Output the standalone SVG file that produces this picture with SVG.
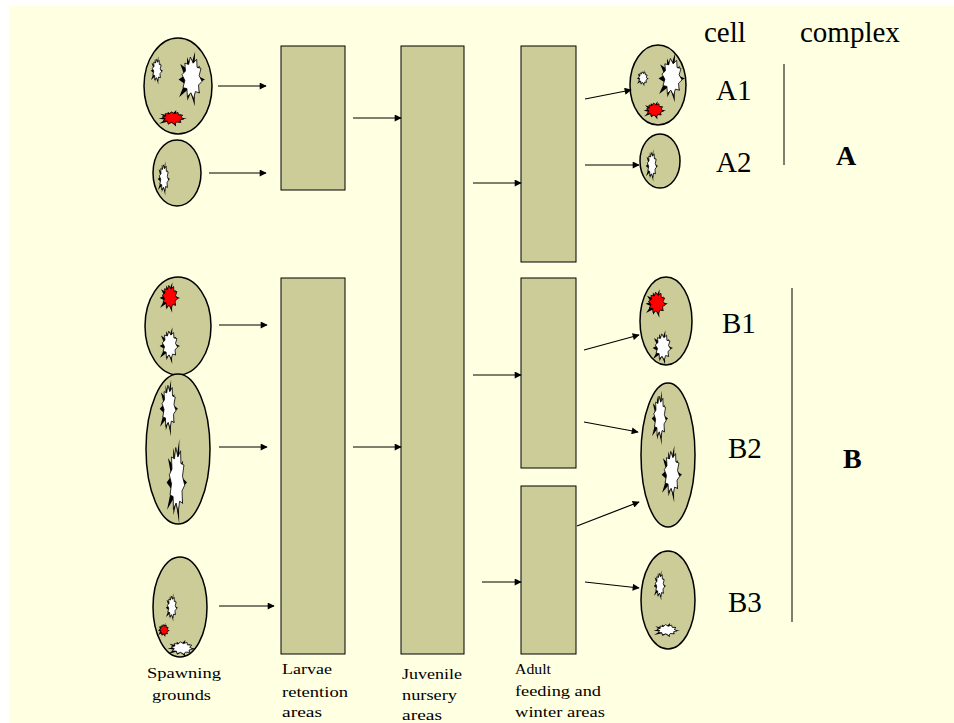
<svg xmlns="http://www.w3.org/2000/svg" xmlns:xlink="http://www.w3.org/1999/xlink" width="954" height="723" viewBox="0 0 954 723">
  <style>
    .area { fill: #CCCC99; stroke: #000; stroke-width: 1; }
    .cell { fill: #CCCC99; stroke: #000; stroke-width: 1.5; }
    .link { stroke: #000; stroke-width: 1.2; fill: none; marker-end: url(#arrow); }
    .bar { stroke: #000; stroke-width: 1; }
    .lbl { font-family: "Liberation Serif", "Times New Roman", serif; fill: #000; }
    .small { font-size: 15.5px; }
    .big { font-size: 29px; }
    .bold { font-size: 28px; font-weight: bold; }
    .spk { fill: #000; }
    .core { fill: #fff; stroke: #000; stroke-width: 0.8; vector-effect: non-scaling-stroke; }
    .coreR { fill: #f00; stroke: #000; stroke-width: 0.8; vector-effect: non-scaling-stroke; }
  </style>
  <defs>
    <marker id="arrow" viewBox="0 0 10 10" refX="9" refY="5" markerWidth="10" markerHeight="7" markerUnits="userSpaceOnUse" orient="auto">
      <path d="M0,0 L10,5 L0,10 z" fill="#000"/>
    </marker>
    <!-- spot: black spiky rim behind a jagged white (or red) core -->
    <g id="spot">
      <polygon class="spk" transform="translate(-0.1,0.06) scale(1.1)" points="1,0 0.43,0.14 0.65,0.47 0.26,0.36 0.29,0.9 0,0.45 -0.23,0.71 -0.26,0.36 -0.81,0.59 -0.43,0.14 -0.85,0 -0.43,-0.14 -0.73,-0.53 -0.26,-0.36 -0.25,-0.76 0,-0.45 0.31,-0.95 0.26,-0.36 0.65,-0.47 0.43,-0.14"/>
      <polygon class="core" transform="scale(1.12)" points="0.69,0.11 0.45,0.23 0.49,0.49 0.23,0.45 0.11,0.69 -0.08,0.49 -0.32,0.62 -0.35,0.35 -0.62,0.32 -0.49,0.08 -0.69,-0.11 -0.45,-0.23 -0.49,-0.49 -0.23,-0.45 -0.11,-0.69 0.08,-0.49 0.32,-0.62 0.35,-0.35 0.62,-0.32 0.49,-0.08"/>
    </g>
    <g id="spotR">
      <polygon class="spk" transform="translate(-0.1,0.06) scale(1.1)" points="1,0 0.43,0.14 0.65,0.47 0.26,0.36 0.29,0.9 0,0.45 -0.23,0.71 -0.26,0.36 -0.81,0.59 -0.43,0.14 -0.85,0 -0.43,-0.14 -0.73,-0.53 -0.26,-0.36 -0.25,-0.76 0,-0.45 0.31,-0.95 0.26,-0.36 0.65,-0.47 0.43,-0.14"/>
      <polygon class="coreR" transform="scale(1.12)" points="0.69,0.11 0.45,0.23 0.49,0.49 0.23,0.45 0.11,0.69 -0.08,0.49 -0.32,0.62 -0.35,0.35 -0.62,0.32 -0.49,0.08 -0.69,-0.11 -0.45,-0.23 -0.49,-0.49 -0.23,-0.45 -0.11,-0.69 0.08,-0.49 0.32,-0.62 0.35,-0.35 0.62,-0.32 0.49,-0.08"/>
    </g>
  </defs>

  <!-- page -->
  <rect x="0" y="0" width="954" height="723" fill="#fff"/>
  <rect x="9" y="6" width="945" height="717" fill="#FFFFE1"/>

  <!-- spawning grounds -->
  <g id="spawn1">
    <ellipse class="cell" cx="178" cy="86" rx="34" ry="48"/>
    <use xlink:href="#spot" transform="translate(157,70) scale(6,14)"/>
    <use xlink:href="#spot" transform="translate(192,78) scale(13,27)"/>
    <use xlink:href="#spotR" transform="translate(173,118) scale(14,8)"/>
  </g>
  <g id="spawn2">
    <ellipse class="cell" cx="177" cy="173" rx="24" ry="33"/>
    <use xlink:href="#spot" transform="translate(164,178) scale(6,17)"/>
  </g>
  <g id="spawn3">
    <ellipse class="cell" cx="178" cy="326" rx="33" ry="49"/>
    <use xlink:href="#spotR" transform="translate(170,297) scale(10,15)"/>
    <use xlink:href="#spot" transform="translate(170,345) scale(10,18)"/>
  </g>
  <g id="spawn4">
    <ellipse class="cell" cx="178" cy="449" rx="32" ry="75"/>
    <use xlink:href="#spot" transform="translate(169,407) scale(9,28)"/>
    <use xlink:href="#spot" transform="translate(177,480) scale(10,42)"/>
  </g>
  <g id="spawn5">
    <ellipse class="cell" cx="180" cy="607" rx="27" ry="50"/>
    <use xlink:href="#spot" transform="translate(172,607) scale(6,14)"/>
    <use xlink:href="#spotR" transform="translate(164,630) scale(6,7)"/>
    <use xlink:href="#spot" transform="translate(182,648) scale(14,8)"/>
  </g>

  <!-- larvae retention areas -->
  <g id="larvae1"><rect class="area" x="281" y="46" width="64" height="144"/></g>
  <g id="larvae2"><rect class="area" x="281" y="278" width="64" height="376"/></g>

  <!-- juvenile nursery area -->
  <g id="juvenile"><rect class="area" x="401" y="46" width="63" height="608"/></g>

  <!-- adult feeding and winter areas -->
  <g id="adult1"><rect class="area" x="521" y="46" width="55" height="216"/></g>
  <g id="adult2"><rect class="area" x="521" y="278" width="55" height="190"/></g>
  <g id="adult3"><rect class="area" x="521" y="486" width="55" height="168"/></g>

  <!-- cells -->
  <g id="cellA1">
    <ellipse class="cell" cx="658" cy="85" rx="28" ry="40"/>
    <use xlink:href="#spot" transform="translate(643,78) scale(6,8)"/>
    <use xlink:href="#spot" transform="translate(672,77) scale(13,24)"/>
    <use xlink:href="#spotR" transform="translate(655,110) scale(11,9)"/>
  </g>
  <g id="cellA2">
    <ellipse class="cell" cx="660" cy="161" rx="20" ry="27"/>
    <use xlink:href="#spot" transform="translate(652,165) scale(6,16)"/>
  </g>
  <g id="cellB1">
    <ellipse class="cell" cx="666" cy="321" rx="26" ry="44"/>
    <use xlink:href="#spotR" transform="translate(657,303) scale(11,14)"/>
    <use xlink:href="#spot" transform="translate(663,347) scale(10,17)"/>
  </g>
  <g id="cellB2">
    <ellipse class="cell" cx="668" cy="455" rx="27" ry="72"/>
    <use xlink:href="#spot" transform="translate(660,417) scale(8,27)"/>
    <use xlink:href="#spot" transform="translate(672,473) scale(10,28)"/>
  </g>
  <g id="cellB3">
    <ellipse class="cell" cx="668" cy="600" rx="27" ry="49"/>
    <use xlink:href="#spot" transform="translate(660,585) scale(6,15)"/>
    <use xlink:href="#spot" transform="translate(667,630) scale(13,7)"/>
  </g>

  <!-- connectors -->
  <g id="connectors">
    <line class="link" x1="218" y1="86" x2="266" y2="86"/>
    <line class="link" x1="209" y1="173" x2="266" y2="173"/>
    <line class="link" x1="219" y1="325" x2="267" y2="325"/>
    <line class="link" x1="219" y1="447" x2="267" y2="447"/>
    <line class="link" x1="219" y1="606" x2="274" y2="606"/>
    <line class="link" x1="353" y1="118" x2="401" y2="118"/>
    <line class="link" x1="353" y1="447" x2="401" y2="447"/>
    <line class="link" x1="473" y1="183" x2="521" y2="183"/>
    <line class="link" x1="473" y1="375" x2="521" y2="375"/>
    <line class="link" x1="482" y1="582" x2="521" y2="582"/>
    <line class="link" x1="585" y1="99" x2="631" y2="90"/>
    <line class="link" x1="585" y1="165" x2="639" y2="165"/>
    <line class="link" x1="584" y1="350" x2="639" y2="335"/>
    <line class="link" x1="584" y1="422" x2="638" y2="432"/>
    <line class="link" x1="577" y1="526" x2="639" y2="502"/>
    <line class="link" x1="585" y1="582" x2="639" y2="588"/>
  </g>

  <!-- complex brackets -->
  <line class="bar" x1="784" y1="64" x2="784" y2="165"/>
  <line class="bar" x1="792" y1="288" x2="792" y2="622"/>

  <!-- labels -->
  <g class="lbl">
    <text class="big" x="704" y="42">cell</text>
    <text class="big" x="800" y="42">complex</text>
    <text class="big" x="716" y="100">A1</text>
    <text class="big" x="716" y="172">A2</text>
    <text class="bold" x="836" y="165">A</text>
    <text class="big" x="722" y="333">B1</text>
    <text class="big" x="728" y="458">B2</text>
    <text class="big" x="728" y="612">B3</text>
    <text class="bold" x="843" y="468">B</text>

    <text class="small" x="147" y="678" textLength="74" lengthAdjust="spacingAndGlyphs">Spawning</text>
    <text class="small" x="152" y="700" textLength="59" lengthAdjust="spacingAndGlyphs">grounds</text>
    <text class="small" x="282" y="674" textLength="50" lengthAdjust="spacingAndGlyphs">Larvae</text>
    <text class="small" x="282" y="697" textLength="66" lengthAdjust="spacingAndGlyphs">retention</text>
    <text class="small" x="282" y="717" textLength="40" lengthAdjust="spacingAndGlyphs">areas</text>
    <text class="small" x="402" y="679" textLength="60" lengthAdjust="spacingAndGlyphs">Juvenile</text>
    <text class="small" x="402" y="700" textLength="55" lengthAdjust="spacingAndGlyphs">nursery</text>
    <text class="small" x="402" y="720" textLength="40" lengthAdjust="spacingAndGlyphs">areas</text>
    <text class="small" x="515" y="674" textLength="36" lengthAdjust="spacingAndGlyphs">Adult</text>
    <text class="small" x="515" y="696" textLength="86" lengthAdjust="spacingAndGlyphs">feeding and</text>
    <text class="small" x="515" y="717" textLength="90" lengthAdjust="spacingAndGlyphs">winter areas</text>
  </g>
</svg>
